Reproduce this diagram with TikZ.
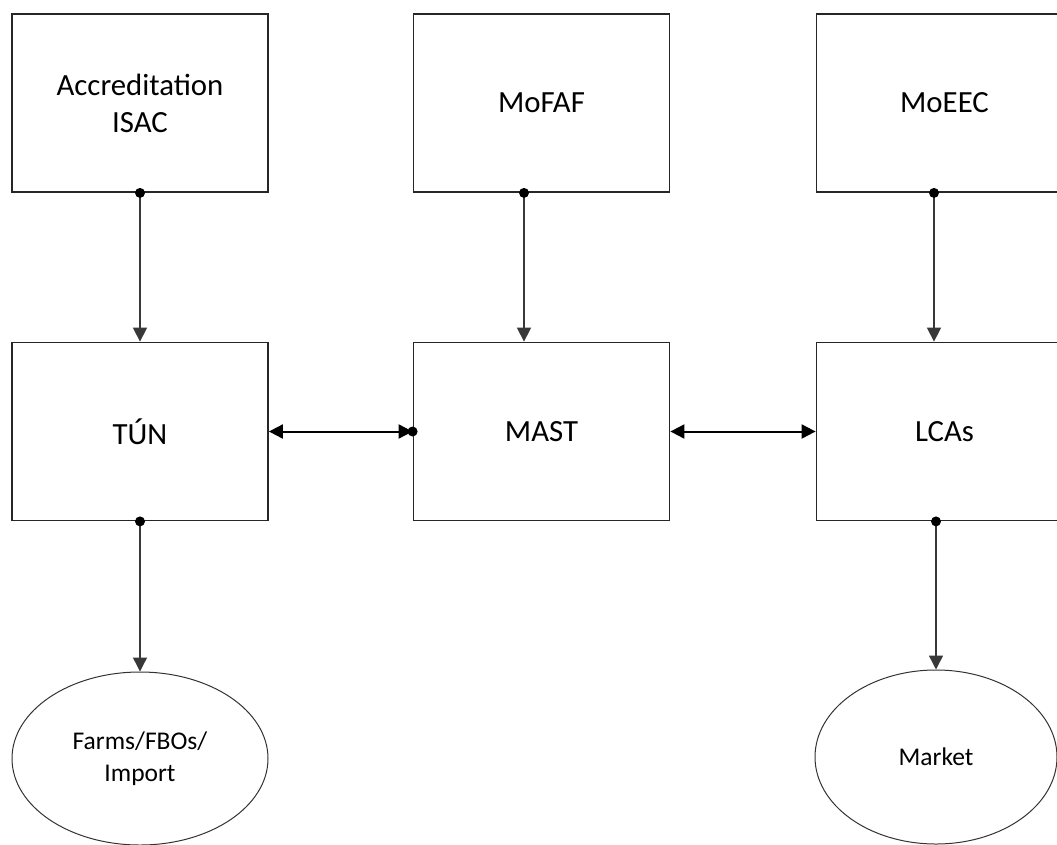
\documentclass[tikz,border=0pt]{standalone}
\usepackage{fontspec}
\setmainfont{Carlito}
\usetikzlibrary{arrows.meta,shapes.geometric}
\begin{document}
\begin{tikzpicture}[x=1pt,y=-1pt,
  box/.style={draw=black!85, line width=1.8pt, minimum width=256pt, minimum height=178pt,
    inner sep=0pt, font=\fontsize{30.8}{37}\selectfont, align=center},
  oval/.style={ellipse, draw=black!80, line width=1pt, inner sep=0pt,
    font=\fontsize{25.5}{32}\selectfont, align=center},
  vconn/.style={draw=black!78, line width=1.4pt, -{Triangle[length=14pt,width=14pt]}},
  hconn/.style={draw=black, line width=2pt,
    {Triangle[length=14pt,width=14pt]}-{Triangle[length=14pt,width=14pt]}},
  dotc/.style={fill=black}]
\useasboundingbox (0,0) rectangle (1057,844);
\clip (0,0) rectangle (1057,844);
\fill[white] (0,0) rectangle (1057,844);

\node[box] (isac)  at (140,103)   {Accreditation\\ISAC};
\node[box] (mofaf) at (541.5,103) {MoFAF};
\node[box] (moeec) at (944.5,103) {MoEEC};
\node[box] (tun)   at (140,431.5)   {TÚN};
\node[box] (mast)  at (541.5,431.5) {MAST};
\node[box] (lcas)  at (944.5,431.5) {LCAs};
\node[oval, minimum width=256pt, minimum height=173pt] (farms)  at (140,758.5) {Farms/FBOs/\\Import};
\node[oval, minimum width=242pt, minimum height=174pt] (market) at (936,757) {Market};

\coordinate (mx) at (524,0);
\coordinate (rx) at (934,0);

\draw[vconn] (isac.south) -- (tun.north);
\draw[vconn] (mofaf.south -| mx) -- (mast.north -| mx);
\draw[vconn] (moeec.south -| rx) -- (lcas.north -| rx);
\draw[vconn] (tun.south) -- (farms.north);
\draw[vconn] (lcas.south -| market.north) -- (market.north);

\draw[hconn] (tun.east) -- (mast.west);
\draw[hconn] (mast.east) -- (lcas.west);

\fill[dotc] (isac.south) circle (5pt);
\fill[dotc] (mofaf.south -| mx) circle (5pt);
\fill[dotc] (moeec.south -| rx) circle (5pt);
\fill[dotc] (tun.south) circle (5pt);
\fill[dotc] (lcas.south -| market.north) circle (5pt);
\fill[dotc] (mast.west) circle (5pt);
\end{tikzpicture}
\end{document}
